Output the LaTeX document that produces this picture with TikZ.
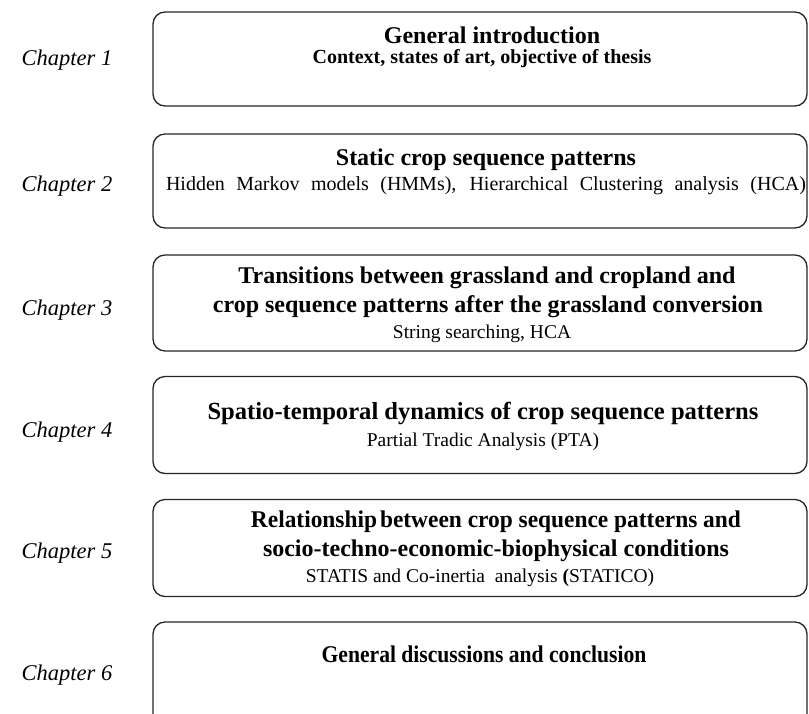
\documentclass[tikz,border=0pt]{standalone}
\usepackage{fontspec}
\setmainfont{Liberation Serif}
\begin{document}
\begin{tikzpicture}[x=1pt,y=-1pt,
  chapbox/.style={draw=black!85, line width=1.3pt, rounded corners=12pt, minimum width=654pt, inner sep=0pt},
  chaplab/.style={font=\fontsize{22.5}{26}\selectfont\itshape, anchor=base},
  ttl/.style={font=\fontsize{24}{28}\selectfont\bfseries, anchor=base, inner sep=0pt},
  sub/.style={font=\fontsize{19.5}{24}\selectfont, anchor=base, inner sep=0pt},
  subb/.style={font=\fontsize{20}{24}\selectfont\bfseries, anchor=base, inner sep=0pt}]
\path[use as bounding box] (0,0) rectangle (809,713);
\clip (0,0) rectangle (809,713);
% boxes
\node[chapbox, minimum height=94pt] (b1) at (480,59) {};
\node[chapbox, minimum height=94pt] (b2) at (480,181) {};
\node[chapbox, minimum height=96pt] (b3) at (480,303) {};
\node[chapbox, minimum height=97pt] (b4) at (480,425) {};
\node[chapbox, minimum height=97pt] (b5) at (480,548) {};
\node[chapbox, minimum height=120pt] (b6) at (480,682) {};
% chapter labels
\node[chaplab] (c1) at (67,65) {Chapter 1};
\node[chaplab] (c2) at (67,191) {Chapter 2};
\node[chaplab] (c3) at (67,315) {Chapter 3};
\node[chaplab] (c4) at (67,437) {Chapter 4};
\node[chaplab] (c5) at (67,558) {Chapter 5};
\node[chaplab] (c6) at (67,680) {Chapter 6};
% box 1
\node[ttl] (t1) at (492,43) {General introduction};
\node[subb] (s1) at (482,63) {Context, states of art, objective of thesis};
% box 2
\node[ttl] (t2) at (486,165) {Static crop sequence patterns};
\node[sub, font=\fontsize{20}{24}\selectfont] (s2) at (486,190) {\makebox[640pt][s]{Hidden Markov models (HMMs), Hierarchical Clustering analysis (HCA)}};
% box 3
\node[ttl] (t3a) at (487,283) {Transitions between grassland and cropland and};
\node[ttl] (t3b) at (488,312) {crop sequence patterns after the grassland conversion};
\node[sub] (s3) at (482,338) {String searching, HCA};
% box 4
\node[ttl, font=\fontsize{24.6}{28}\selectfont\bfseries] (t4) at (483,419) {Spatio-temporal dynamics of crop sequence patterns};
\node[sub] (s4) at (483,446) {Partial Tradic Analysis (PTA)};
% box 5
\node[ttl] (t5a) at (496,527) {\scalebox{0.975}[1]{Relationship\hspace{3pt}between crop sequence patterns and}};
\node[ttl] (t5b) at (496,556) {socio-techno-economic-biophysical conditions};
\node[sub] (s5) at (480,582) {STATIS and Co-inertia\ \ analysis {\bfseries(}STATICO)};
% box 6
\node[ttl] (t6) at (484,662) {\scalebox{0.9}[1]{General discussions and conclusion}};
\end{tikzpicture}
\end{document}
